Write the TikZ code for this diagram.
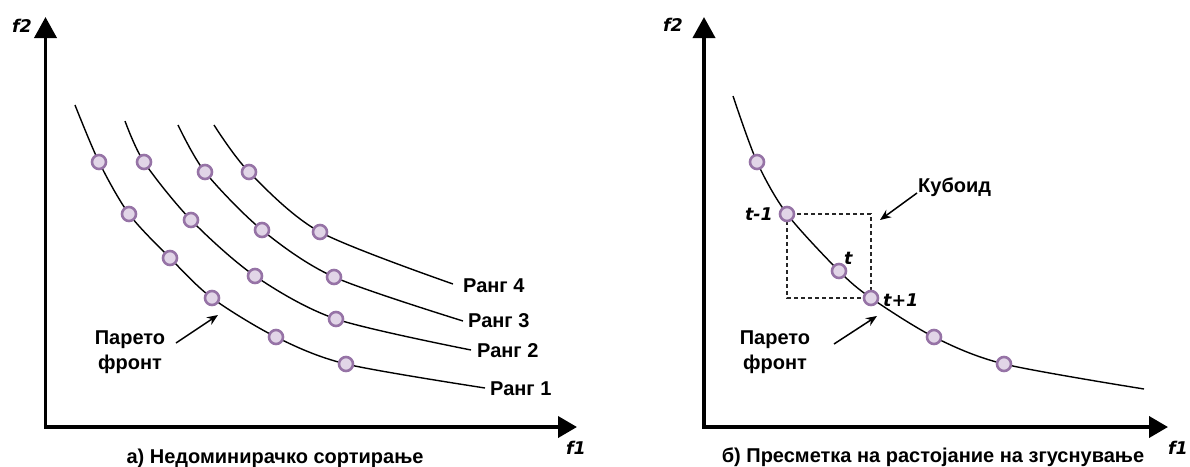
\documentclass[tikz,border=0pt]{standalone}
\usepackage{fontspec}
\setmainfont{Liberation Sans}
\newfontfamily\vfont{DejaVu Sans}
\usetikzlibrary{arrows.meta}
\definecolor{ptfill}{HTML}{E1D5E7}
\definecolor{ptdraw}{HTML}{9673A6}
\begin{document}
\begin{tikzpicture}[x=1pt,y=-1pt,
 pt/.style={circle,fill=ptfill,draw=ptdraw,line width=2.6pt,minimum size=14pt,inner sep=0pt},
 axis/.style={line width=3.8pt,line join=miter,{Triangle[length=21pt,width=22pt]}-{Triangle[length=19pt,width=21pt]}},
 front/.style={line width=1.4pt},
 lbl/.style={font=\fontsize{20}{24.5}\selectfont\bfseries,inner sep=0pt},
 ilbl/.style={font=\vfont\fontsize{17.5}{20}\selectfont\bfseries\itshape,inner sep=0pt},
 ptr/.style={line width=1.5pt,-{Stealth[length=11pt,width=9pt]}},
 cub/.style={dash pattern=on 4pt off 3pt,line width=1.1pt,draw=black!85}
]
\useasboundingbox (0,0) rectangle (1190,466);

% ---------- left panel ----------
\coordinate (ly) at (45.5,17);
\coordinate (lo) at (45.5,427);
\coordinate (lx) at (577,427);
\draw[axis] (ly) -- (lo) -- (lx);
\node[ilbl] (lf2) at (22,26) {f2};
\node[ilbl] (lf1) at (576,448) {f1};

% rank 1
\coordinate (s1) at (75,105);
\coordinate (a11) at (99,162);
\coordinate (a12) at (129,214);
\coordinate (a13) at (170,258);
\coordinate (a14) at (212,298);
\coordinate (a15) at (276,337);
\coordinate (a16) at (346,364);
\coordinate (e1) at (485,388);
% rank 2
\coordinate (s2) at (125,121);
\coordinate (a21) at (144,162);
\coordinate (a22) at (191,220);
\coordinate (a23) at (255,276);
\coordinate (a24) at (336,319);
\coordinate (e2) at (471,350);
% rank 3
\coordinate (s3) at (178,125);
\coordinate (a31) at (205,172);
\coordinate (a32) at (262,230);
\coordinate (a33) at (334,277);
\coordinate (e3) at (463,321);
% rank 4
\coordinate (s4) at (214,125);
\coordinate (a41) at (249,172);
\coordinate (a42) at (320,232);
\coordinate (e4) at (453,284);

\draw[front] plot[smooth] coordinates {(s1) (a11) (a12) (a13) (a14) (a15) (a16) (e1)};
\draw[front] plot[smooth] coordinates {(s2) (a21) (a22) (a23) (a24) (e2)};
\draw[front] plot[smooth] coordinates {(s3) (a31) (a32) (a33) (e3)};
\draw[front] plot[smooth] coordinates {(s4) (a41) (a42) (e4)};

\foreach \p in {a11,a12,a13,a14,a15,a16,a21,a22,a23,a24,a31,a32,a33,a41,a42}
  \node[pt] (n\p) at (\p) {};

\node[lbl,anchor=west] (r4) at (463,286) {Ранг 4};
\node[lbl,anchor=west] (r3) at (468,321) {Ранг 3};
\node[lbl,anchor=west] (r2) at (477,351) {Ранг 2};
\node[lbl,anchor=west] (r1) at (490,389) {Ранг 1};

\node[lbl,align=center] (lpf) at (130,352) {Парето\\фронт};
\coordinate (lpa) at (176,343);
\coordinate (lpb) at (218,315);
\draw[ptr] (lpa) -- (lpb);

\node[lbl] (lcap) at (275,458) {а) Недоминирачко сортирање};

% ---------- right panel ----------
\coordinate (ry) at (704,17);
\coordinate (ro) at (704,427);
\coordinate (rx) at (1168,427);
\draw[axis] (ry) -- (ro) -- (rx);
\node[ilbl] (rf2) at (673,25) {f2};
\node[ilbl] (rf1) at (1178,448) {f1};

\coordinate (bs) at (733,96);
\coordinate (b1) at (757,162);
\coordinate (b2) at (787,214);
\coordinate (b3) at (839,271);
\coordinate (b4) at (871,298);
\coordinate (b5) at (934,337);
\coordinate (b6) at (1004,364);
\coordinate (be) at (1144,389);

\draw[cub] (b2) rectangle (b4);
\draw[front] plot[smooth] coordinates {(bs) (b1) (b2) (b3) (b4) (b5) (b6) (be)};
\foreach \p in {b1,b2,b3,b4,b5,b6}
  \node[pt] (n\p) at (\p) {};

\node[ilbl,anchor=east] (tm) at (773,214) {t-1};
\node[ilbl,anchor=west] (tt) at (844,258) {t};
\node[ilbl,anchor=west] (tp) at (883,300) {t+1};

\node[lbl,anchor=west] (kub) at (918,187) {Кубоид};
\coordinate (ka) at (917,193);
\coordinate (kb) at (880,220);
\draw[ptr] (ka) -- (kb);

\node[lbl,align=center] (rpf) at (775,352) {Парето\\фронт};
\coordinate (rpa) at (834,344);
\coordinate (rpb) at (877,316);
\draw[ptr] (rpa) -- (rpb);

\node[lbl] (rcap) at (933,457) {б) Пресметка на растојание на згуснување};
\end{tikzpicture}
\end{document}
